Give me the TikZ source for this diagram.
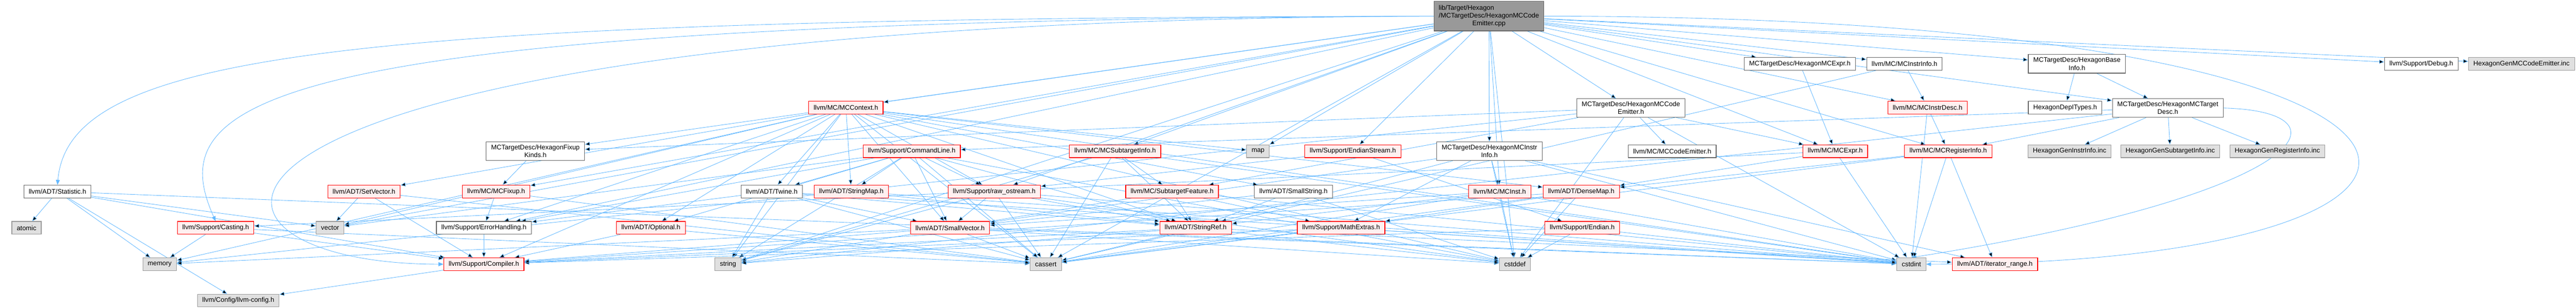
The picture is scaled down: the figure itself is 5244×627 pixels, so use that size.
\documentclass[tikz,border=0pt]{standalone}
\usepackage{fontspec}
\setmainfont{Liberation Sans}
\usepackage{tikz}
\usetikzlibrary{arrows.meta,backgrounds}

\definecolor{edgeblue}{HTML}{63B8FF}
\definecolor{redfill}{HTML}{FFF0F0}
\definecolor{grayfill}{HTML}{E0E0E0}
\definecolor{mainfill}{HTML}{999999}

\begin{document}
\begin{tikzpicture}[x=1pt,y=1pt,
    font=\fontsize{13.5}{16}\selectfont,
    >={Triangle[length=10pt,width=8pt]},
    box/.style={draw,line width=1.2pt,minimum height=26pt,inner xsep=10pt,inner ysep=6pt,align=center},
    hdr/.style={box,draw=black!60,fill=white},
    redhdr/.style={box,draw=red,fill=redfill},
    sysh/.style={box,draw=black!40,fill=grayfill},
    mainfile/.style={box,draw=black!60,fill=mainfill},
    dep/.style={->,draw=edgeblue,line width=0.9pt}]
      \useasboundingbox (0,0) rectangle (5244,627);
      % the file itself
      \node[mainfile] (main) at (3031,594) {\begin{tabular}{@{}l@{}}lib/Target/Hexagon\\/MCTargetDesc/HexagonMCCode\\\multicolumn{1}{@{}c@{}}{Emitter.cpp}\end{tabular}};
      % first row
      \node[hdr] (hexexpr) at (3664,497) {MCTargetDesc/HexagonMCExpr.h};
      \node[hdr] (instrinfo) at (3877,497) {llvm/MC/MCInstrInfo.h};
      \node[hdr] (baseinfo) at (4228,497) {MCTargetDesc/HexagonBase\\Info.h};
      \node[hdr] (debug) at (4929,497) {llvm/Support/Debug.h};
      \node[sysh] (genemitter) at (5133,497) {HexagonGenMCCodeEmitter.inc};
      % second row
      \node[redhdr] (mccontext) at (1722,408) {llvm/MC/MCContext.h};
      \node[hdr] (emith) at (3320,407) {MCTargetDesc/HexagonMCCode\\Emitter.h};
      \node[redhdr] (instrdesc) at (3924,408) {llvm/MC/MCInstrDesc.h};
      \node[hdr] (depitypes) at (4204,408) {HexagonDepITypes.h};
      \node[hdr] (targetdesc) at (4413,407) {MCTargetDesc/HexagonMCTarget\\Desc.h};
      % third row
      \node[hdr] (fixupkinds) at (1090,319) {MCTargetDesc/HexagonFixup\\Kinds.h};
      \node[redhdr] (cmdline) at (1856,319) {llvm/Support/CommandLine.h};
      \node[redhdr] (subinfo) at (2270,319) {llvm/MC/MCSubtargetInfo.h};
      \node[sysh] (map) at (2561,319) {map};
      \node[redhdr] (endianstream) at (2754,319) {llvm/Support/EndianStream.h};
      \node[hdr] (hexinstrinfo) at (3032,319) {MCTargetDesc/HexagonMCInstr\\Info.h};
      \node[hdr] (codeemitter) at (3404,319) {llvm/MC/MCCodeEmitter.h};
      \node[redhdr] (mcexpr) at (3736,319) {llvm/MC/MCExpr.h};
      \node[redhdr] (reginfo) at (3966,319) {llvm/MC/MCRegisterInfo.h};
      \node[sysh] (geninstr) at (4213,319) {HexagonGenInstrInfo.inc};
      \node[sysh] (gensub) at (4418,319) {HexagonGenSubtargetInfo.inc};
      \node[sysh] (genreg) at (4636,319) {HexagonGenRegisterInfo.inc};
      % fourth row
      \node[hdr] (statistic) at (117,237) {llvm/ADT/Statistic.h};
      \node[redhdr] (setvector) at (741,237) {llvm/ADT/SetVector.h};
      \node[redhdr] (mcfixup) at (1010,237) {llvm/MC/MCFixup.h};
      \node[hdr] (twine) at (1571,237) {llvm/ADT/Twine.h};
      \node[redhdr] (stringmap) at (1733,237) {llvm/ADT/StringMap.h};
      \node[redhdr] (rawostream) at (2024,237) {llvm/Support/raw\_ostream.h};
      \node[redhdr] (subfeature) at (2386,237) {llvm/MC/SubtargetFeature.h};
      \node[hdr] (smallstring) at (2633,237) {llvm/ADT/SmallString.h};
      \node[redhdr] (mcinst) at (3053,237) {llvm/MC/MCInst.h};
      \node[redhdr] (densemap) at (3219,237) {llvm/ADT/DenseMap.h};
      % fifth row
      \node[sysh] (atomic) at (54,163) {atomic};
      \node[redhdr] (casting) at (439,163) {llvm/Support/Casting.h};
      \node[sysh] (vector) at (672,163) {vector};
      \node[hdr] (errhandling) at (985,163) {llvm/Support/ErrorHandling.h};
      \node[redhdr] (optional) at (1325,163) {llvm/ADT/Optional.h};
      \node[redhdr] (smallvector) at (1934,163) {llvm/ADT/SmallVector.h};
      \node[redhdr] (stringref) at (2434,163) {llvm/ADT/StringRef.h};
      \node[redhdr] (mathextras) at (2730,163) {llvm/Support/MathExtras.h};
      \node[redhdr] (endian) at (3221,163) {llvm/Support/Endian.h};
      % sixth row
      \node[sysh] (memory) at (325,89) {memory};
      \node[redhdr] (compiler) at (985,89) {llvm/Support/Compiler.h};
      \node[sysh] (string) at (1482,89) {string};
      \node[sysh] (cassert) at (2129,89) {cassert};
      \node[sysh] (cstddef) at (3084,89) {cstddef};
      \node[sysh] (cstdint) at (3891,89) {cstdint};
      \node[redhdr] (iterrange) at (4061,89) {llvm/ADT/iterator\_range.h};
      % last row
      \node[sysh] (llvmconfig) at (485,15) {llvm/Config/llvm-config.h};

      \begin{scope}[on background layer]
      % long ones from the file, bent round the sides
      \draw[dep] (main.west) .. controls (700,590) and (140,520) .. (statistic.north);
      \draw[dep] (main.west) .. controls (500,585) and (330,420) .. (casting.north);
      \draw[dep] (main.west) .. controls (250,585) and (280,89) .. (compiler.west);
      \draw[dep] (main.east) .. controls (5200,594) and (5200,89) .. (cstdint.east);
      \draw[dep] (targetdesc.east) .. controls (4800,400) and (4700,230) .. (cstdint.north);
      \draw[dep] (main) edge (emith) edge (baseinfo) edge (fixupkinds) edge (hexexpr)
        edge (hexinstrinfo) edge (targetdesc) edge (mccontext)
        edge (mcexpr) edge (mcfixup) edge (mcinst) edge (instrdesc) edge (instrinfo)
        edge (reginfo) edge (subinfo) edge (debug) edge (endianstream)
        edge (errhandling) edge (rawostream) edge (cassert) edge (cstddef)
        edge (map) edge (string) edge (vector) edge (genemitter);
      \draw[dep] (emith) edge (fixupkinds) edge (codeemitter) edge (mcexpr) edge (subfeature)
        edge (cstddef) edge (cstdint) edge (memory);
      \draw[dep] (baseinfo) edge (depitypes) edge (targetdesc);
      \draw[dep] (fixupkinds) edge (mcfixup);
      \draw[dep] (hexexpr) edge (mcexpr);
      \draw[dep] (hexinstrinfo) edge (mcinst) edge (mathextras) edge (smallvector)
        edge (stringref) edge (iterrange) edge (cstddef) edge (cstdint);
      \draw[dep] (targetdesc) edge (reginfo) edge (geninstr) edge (gensub) edge (genreg)
        edge (cmdline) edge (string);
      \draw[dep] (statistic) edge (llvmconfig) edge (compiler) edge (atomic) edge (memory)
        edge (vector) edge (cstdint);
      \draw[dep] (mccontext) edge (twine) edge (stringmap) edge (smallstring) edge (setvector)
        edge (densemap) edge (optional) edge (smallvector) edge (stringref) edge (rawostream)
        edge (compiler) edge (errhandling) edge (cassert) edge (cstddef) edge (cstdint)
        edge (map) edge (memory) edge (string) edge (vector);
      \draw[dep] (mcexpr) edge (densemap) edge (casting) edge (cstdint);
      \draw[dep] (mcfixup) edge (errhandling) edge (cassert);
      \draw[dep] (mcinst) edge (smallvector) edge (stringref) edge (cassert) edge (cstddef)
        edge (cstdint);
      \draw[dep] (instrdesc) edge (reginfo) edge (cstdint);
      \draw[dep] (instrinfo) edge (instrdesc) edge (cassert);
      \draw[dep] (reginfo) edge (densemap) edge (iterrange) edge (cassert) edge (cstdint);
      \draw[dep] (subinfo) edge (subfeature) edge (stringref) edge (cassert) edge (cstdint)
        edge (string);
      \draw[dep] (compiler) edge (llvmconfig);
      \draw[dep] (endianstream) edge (endian) edge (rawostream);
      \draw[dep] (errhandling) edge (compiler);
      \draw[dep] (rawostream) edge (smallvector) edge (stringref) edge (cassert) edge (cstddef)
        edge (cstdint) edge (string);
      \draw[dep] (subfeature) edge (stringref) edge (mathextras) edge (cstdint) edge (string);
      \draw[dep] (casting) edge (compiler) edge (memory) edge (cassert);
      \draw[dep] (setvector) edge (vector) edge (compiler) edge (cassert);
      \draw[dep] (optional) edge (compiler) edge (cassert);
      \draw[dep] (twine) edge (smallvector) edge (stringref) edge (errhandling) edge (cassert)
        edge (cstdint) edge (string);
      \draw[dep] (stringmap) edge (stringref) edge (cstdint);
      \draw[dep] (cmdline) edge (stringmap) edge (rawostream) edge (smallvector) edge (stringref)
        edge (twine) edge (errhandling) edge (optional) edge (cassert) edge (cstddef)
        edge (string) edge (vector);
      \draw[dep] (smallstring) edge (smallvector) edge (stringref) edge (cstddef);
      \draw[dep] (smallvector) edge (compiler) edge (cassert) edge (cstddef) edge (cstdint)
        edge (memory);
      \draw[dep] (stringref) edge (compiler) edge (iterrange) edge (cassert) edge (cstddef)
        edge (string);
      \draw[dep] (mathextras) edge (compiler) edge (cassert) edge (cstdint);
      \draw[dep] (endian) edge (compiler) edge (cstddef) edge (cstdint);
      \draw[dep] (densemap) edge (mathextras) edge (compiler) edge (cassert) edge (cstddef);
      \end{scope}
\end{tikzpicture}
\end{document}
